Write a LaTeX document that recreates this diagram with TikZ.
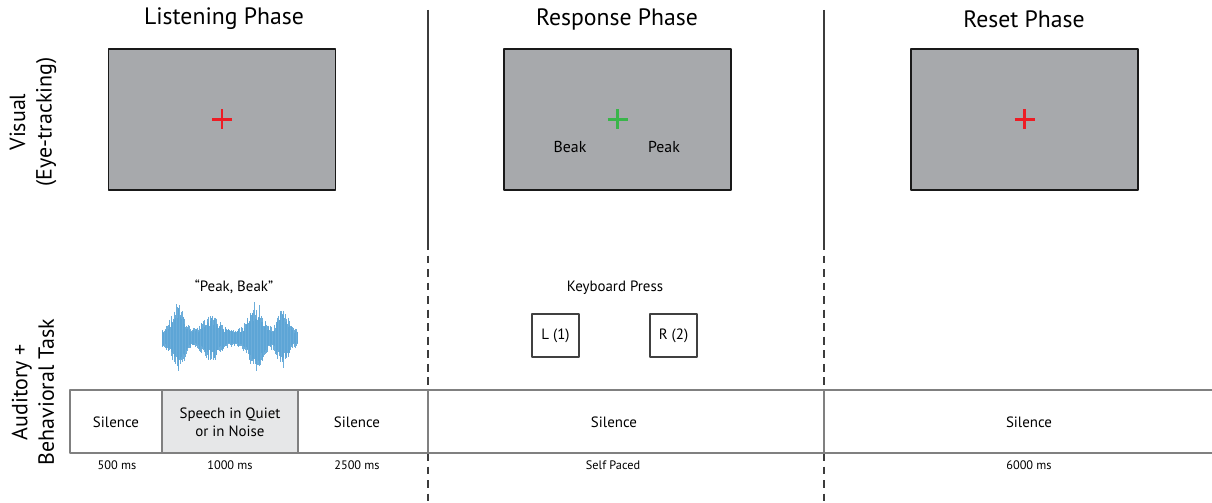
\documentclass[tikz,border=0pt]{standalone}
\usepackage{fontspec}
\setmainfont{PT Sans}
\definecolor{screengray}{RGB}{167,169,172}
\definecolor{speechgray}{RGB}{230,231,232}
\definecolor{wavblue}{RGB}{92,164,214}
\definecolor{crossred}{HTML}{ED1C24}
\definecolor{crossgreen}{HTML}{39B54A}
\definecolor{divgray}{RGB}{60,60,60}
\definecolor{tlgray}{RGB}{128,128,128}
\tikzset{
	phase/.style={font=\fontsize{13.5}{16}\selectfont},
	rowlab/.style={rotate=90,align=center,font=\fontsize{12.5}{15}\selectfont},
	screen/.style={draw=black!90,line width=0.9pt,fill=screengray,minimum width=4.54cm,minimum height=2.82cm,inner sep=0pt},
	keybox/.style={draw=black!75,line width=0.6pt,minimum width=0.94cm,minimum height=0.86cm,inner sep=0pt,font=\fontsize{8.5}{10}\selectfont},
	celltext/.style={align=center,font=\fontsize{8.5}{10}\selectfont},
	durtext/.style={font=\fontsize{7}{8}\selectfont},
	divsolid/.style={divgray,line width=1.1pt},
	divdash/.style={divgray,line width=1.1pt,dash pattern=on 4.5pt off 3.2pt},
	tline/.style={tlgray,line width=0.8pt},
	crossline/.style={line width=1.2pt}
}
\begin{document}
\begin{tikzpicture}[x=0.02cm,y=-0.02cm,line join=round]
	\useasboundingbox (0,0) rectangle (1212,503);
	%Row labels
	\node[rowlab] (vis) at (33,122) {Visual\\(Eye-tracking)};
	\node[rowlab] (aud) at (33,392) {Auditory +\\Behavioral Task};
	%Phase titles
	\node[phase] (t1) at (224,19) {Listening Phase};
	\node[phase] (t2) at (617,19) {Response Phase};
	\node[phase] (t3) at (1024,19) {Reset Phase};
	%Screens
	\node[screen] (s1) at (222,119.5) {};
	\node[screen] (s2) at (617.5,119.5) {};
	\node[screen] (s3) at (1024.5,119.5) {};
	%Fixation crosses
	\foreach \cx/\cc in {222/crossred,617.5/crossgreen,1024.5/crossred}{
		\draw[crossline,draw=\cc] (\cx-10,119.5)--(\cx+10,119.5);
		\draw[crossline,draw=\cc] (\cx,109.5)--(\cx,129.5);
	}
	\node[font=\fontsize{9}{11}\selectfont] (beak) at (570,147) {Beak};
	\node[font=\fontsize{9}{11}\selectfont] (peak) at (664,147) {Peak};
	%Phase dividers
	\path (428,10) coordinate (D1a) (428,242) coordinate (D1b) (428,390) coordinate (D1c) (428,453) coordinate (D1d) (428,503) coordinate (D1e);
	\path (824,10) coordinate (D2a) (824,242) coordinate (D2b) (824,390) coordinate (D2c) (824,453) coordinate (D2d) (824,503) coordinate (D2e);
	\draw[divsolid] (D1a)--(D1b) (D2a)--(D2b);
	\draw[divdash] (D1b)--(D1c) (D1d)--(D1e) (D2b)--(D2c) (D2d)--(D2e);
	%Speech waveform
	\node[font=\fontsize{8.5}{10}\selectfont] (word) at (234,287) {“Peak, Beak”};
	\pgfmathsetseed{11}
	\foreach \x in {162,162.6,...,298}{
		\pgfmathsetmacro{\amp}{9+28*exp(-min(((\x-178)/8)^2,9))+16*exp(-min(((\x-211)/10)^2,9))+28*exp(-min(((\x-256)/9)^2,9))+21*exp(-min(((\x-283)/7)^2,9))}
		\pgfmathsetmacro{\up}{\amp*(0.5+0.5*rnd)}
		\pgfmathsetmacro{\dn}{\amp*(0.5+0.5*rnd)}
		\draw[wavblue,line width=0.5pt,opacity=0.9] (\x,338-\up)--(\x,338+\dn);
	}
	%Keyboard
	\node[font=\fontsize{8.5}{10}\selectfont] (kb) at (615,288) {Keyboard Press};
	\node[keybox] (L) at (555.5,335.5) {L (1)};
	\node[keybox] (R) at (673.5,335.5) {R (2)};
	%Timeline
	\fill[speechgray] (162,390) rectangle (298,453);
	\draw[tline] (1212,390)--(70,390)--(70,453)--(1212,453);
	\draw[tline] (162,390)--(162,453) (298,390)--(298,453) (428,390)--(428,453) (824,390)--(824,453);
	\node[celltext] (c1) at (116,422) {Silence};
	\node[celltext] (c2) at (230,422) {Speech in Quiet\\or in Noise};
	\node[celltext] (c3) at (357,422) {Silence};
	\node[celltext] (c4) at (614,422) {Silence};
	\node[celltext] (c5) at (1029,422) {Silence};
	\node[durtext] (d1) at (117,465) {500 ms};
	\node[durtext] (d2) at (230,465) {1000 ms};
	\node[durtext] (d3) at (357,465) {2500 ms};
	\node[durtext] (d4) at (613,465) {Self Paced};
	\node[durtext] (d5) at (1029,465) {6000 ms};
\end{tikzpicture}
\end{document}
